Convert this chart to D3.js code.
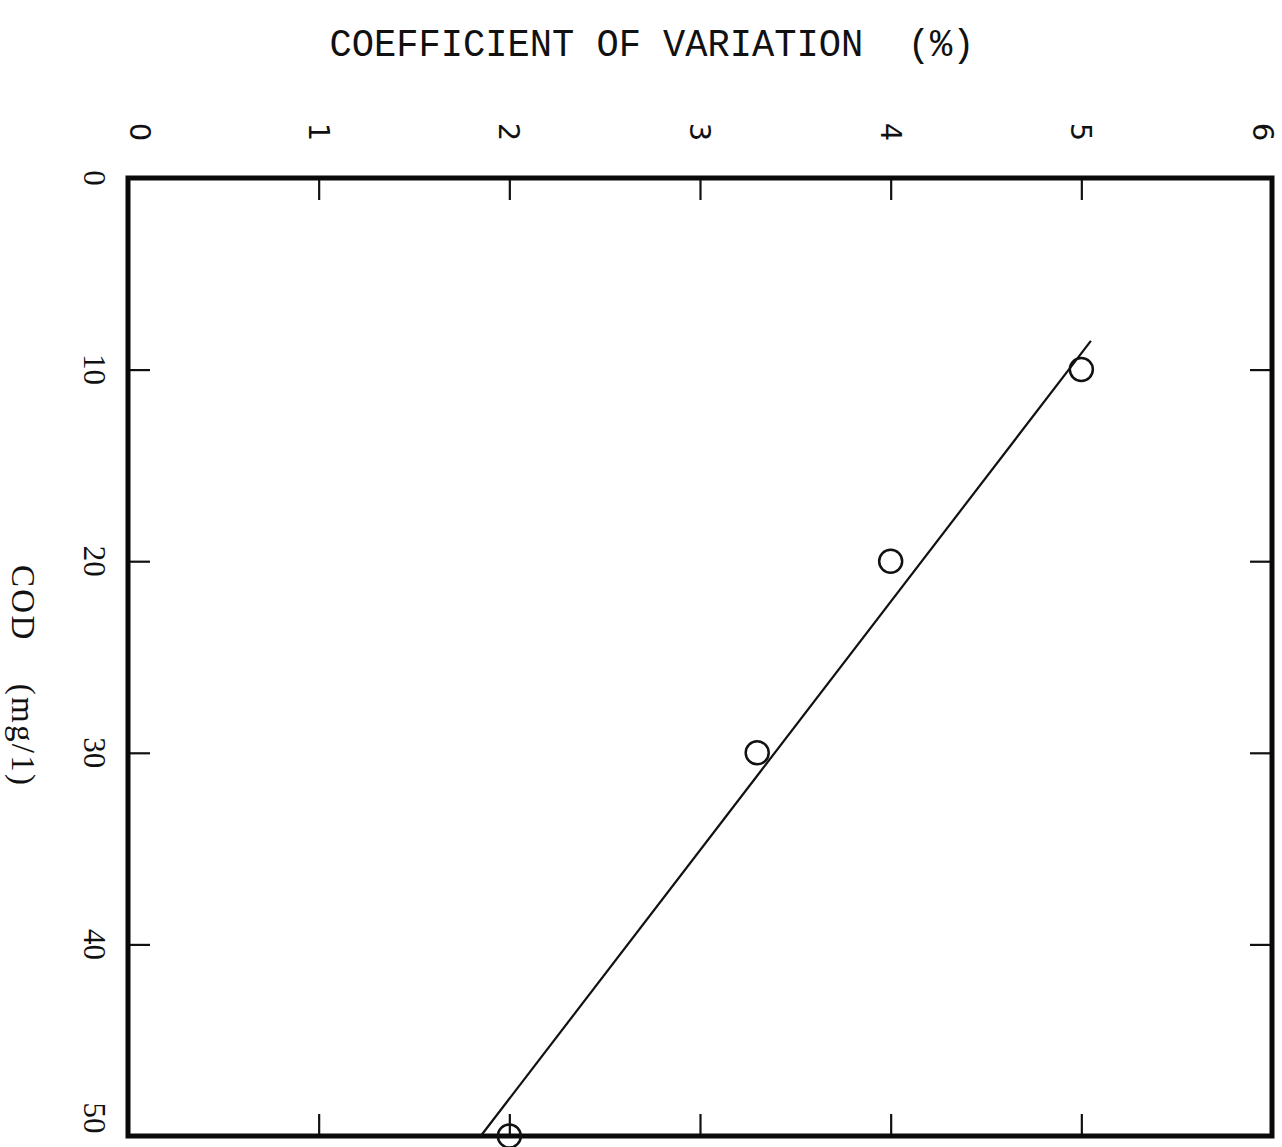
<!DOCTYPE html>
<html>
<head>
<meta charset="utf-8">
<script src="https://cdn.jsdelivr.net/npm/d3@7"></script>
<style>
  html, body { margin: 0; padding: 0; background: #fff; }
  svg { display: block; }
</style>
</head>
<body>
<svg id="chart" width="1282" height="1147"></svg>
<script>
// Measured samples: COD concentration vs. coefficient of variation
const codValues = [10, 20, 30, 50];          // mg/l
const cvValues  = [5.0, 4.0, 3.3, 2.0];      // %

// Fitted regression line, given by its two end points
const fitCod = [8.5, 50];
const fitCv  = [5.05, 1.85];

// Axis tick values
const cvTicks  = [0, 1, 2, 3, 4, 5, 6];
const codTicks = [0, 10, 20, 30, 40, 50];

const svg = d3.select("#chart");

const box = { left: 128, right: 1272, top: 178, bottom: 1136 };

const x = d3.scaleLinear().domain([0, 6]).range([box.left, box.right]);
const y = d3.scaleLinear().domain([0, 50]).range([box.top, box.bottom]);

const tickLen = 22;

// Title
svg.append("text")
  .attr("x", 652).attr("y", 56)
  .attr("text-anchor", "middle")
  .attr("font-family", "Liberation Mono, monospace")
  .attr("font-size", 38)
  .attr("textLength", 645)
  .attr("lengthAdjust", "spacingAndGlyphs")
  .attr("fill", "#111")
  .attr("xml:space", "preserve")
  .text("COEFFICIENT OF VARIATION  (%)");

// Inner tick marks on all four sides
const innerCv = cvTicks.filter(d => d > 0 && d < 6);
const innerCod = codTicks.filter(d => d > 0 && d < 50);

const topAxis = d3.axisTop(x).tickValues(innerCv).tickSize(-tickLen).tickFormat("");
const bottomAxis = d3.axisBottom(x).tickValues(innerCv).tickSize(-tickLen).tickFormat("");
const leftAxis = d3.axisLeft(y).tickValues(innerCod).tickSize(-tickLen).tickFormat("");
const rightAxis = d3.axisRight(y).tickValues(innerCod).tickSize(-tickLen).tickFormat("");

function styleAxis(g) {
  g.select(".domain").remove();
  g.selectAll(".tick line").attr("stroke", "#111").attr("stroke-width", 2.2);
}

svg.append("g").attr("transform", `translate(0,${box.top})`).call(topAxis).call(styleAxis);
svg.append("g").attr("transform", `translate(0,${box.bottom})`).call(bottomAxis).call(styleAxis);
svg.append("g").attr("transform", `translate(${box.left},0)`).call(leftAxis).call(styleAxis);
svg.append("g").attr("transform", `translate(${box.right},0)`).call(rightAxis).call(styleAxis);

// Frame
svg.append("rect")
  .attr("x", box.left).attr("y", box.top)
  .attr("width", box.right - box.left).attr("height", box.bottom - box.top)
  .attr("fill", "none").attr("stroke", "#0a0a0a").attr("stroke-width", 5);

// Tick labels along the top (CV), rotated to read downward
svg.append("g").selectAll("text")
  .data(cvTicks).join("text")
  .attr("transform", d => `translate(${Math.max(140, Math.min(x(d), 1263))},132) rotate(90)`)
  .attr("text-anchor", "middle")
  .attr("dy", "0.35em")
  .attr("font-family", "DejaVu Sans, sans-serif")
  .attr("font-size", 29)
  .attr("fill", "#111")
  .text(d => d);

// Tick labels along the left (COD), rotated to read downward
svg.append("g").selectAll("text")
  .data(codTicks).join("text")
  .attr("transform", d => `translate(95,${Math.min(y(d), 1118)}) rotate(90)`)
  .attr("text-anchor", "middle")
  .attr("dy", "0.35em")
  .attr("font-family", "Liberation Serif, serif")
  .attr("font-size", 31)
  .attr("fill", "#111")
  .text(d => d);

// Left axis title
svg.append("text")
  .attr("transform", "translate(24,675) rotate(90)")
  .attr("text-anchor", "middle")
  .attr("dy", "0.35em")
  .attr("font-family", "Liberation Serif, serif")
  .attr("font-size", 33)
  .attr("fill", "#111")
  .attr("xml:space", "preserve")
  .attr("textLength", 220)
  .attr("lengthAdjust", "spacing")
  .text("COD    (mg/1)");

// Regression line
const fitPts = fitCod.map((c, i) => [x(fitCv[i]), y(c)]);
svg.append("path")
  .attr("d", d3.line()(fitPts))
  .attr("fill", "none")
  .attr("stroke", "#111")
  .attr("stroke-width", 2.2);

// Data points as open circles
svg.append("g").selectAll("circle")
  .data(codValues.map((c, i) => ({ cod: c, cv: cvValues[i] })))
  .join("circle")
  .attr("cx", d => x(d.cv))
  .attr("cy", d => y(d.cod))
  .attr("r", 11.5)
  .attr("fill", "none")
  .attr("stroke", "#111")
  .attr("stroke-width", 2.5);
</script>
</body>
</html>
